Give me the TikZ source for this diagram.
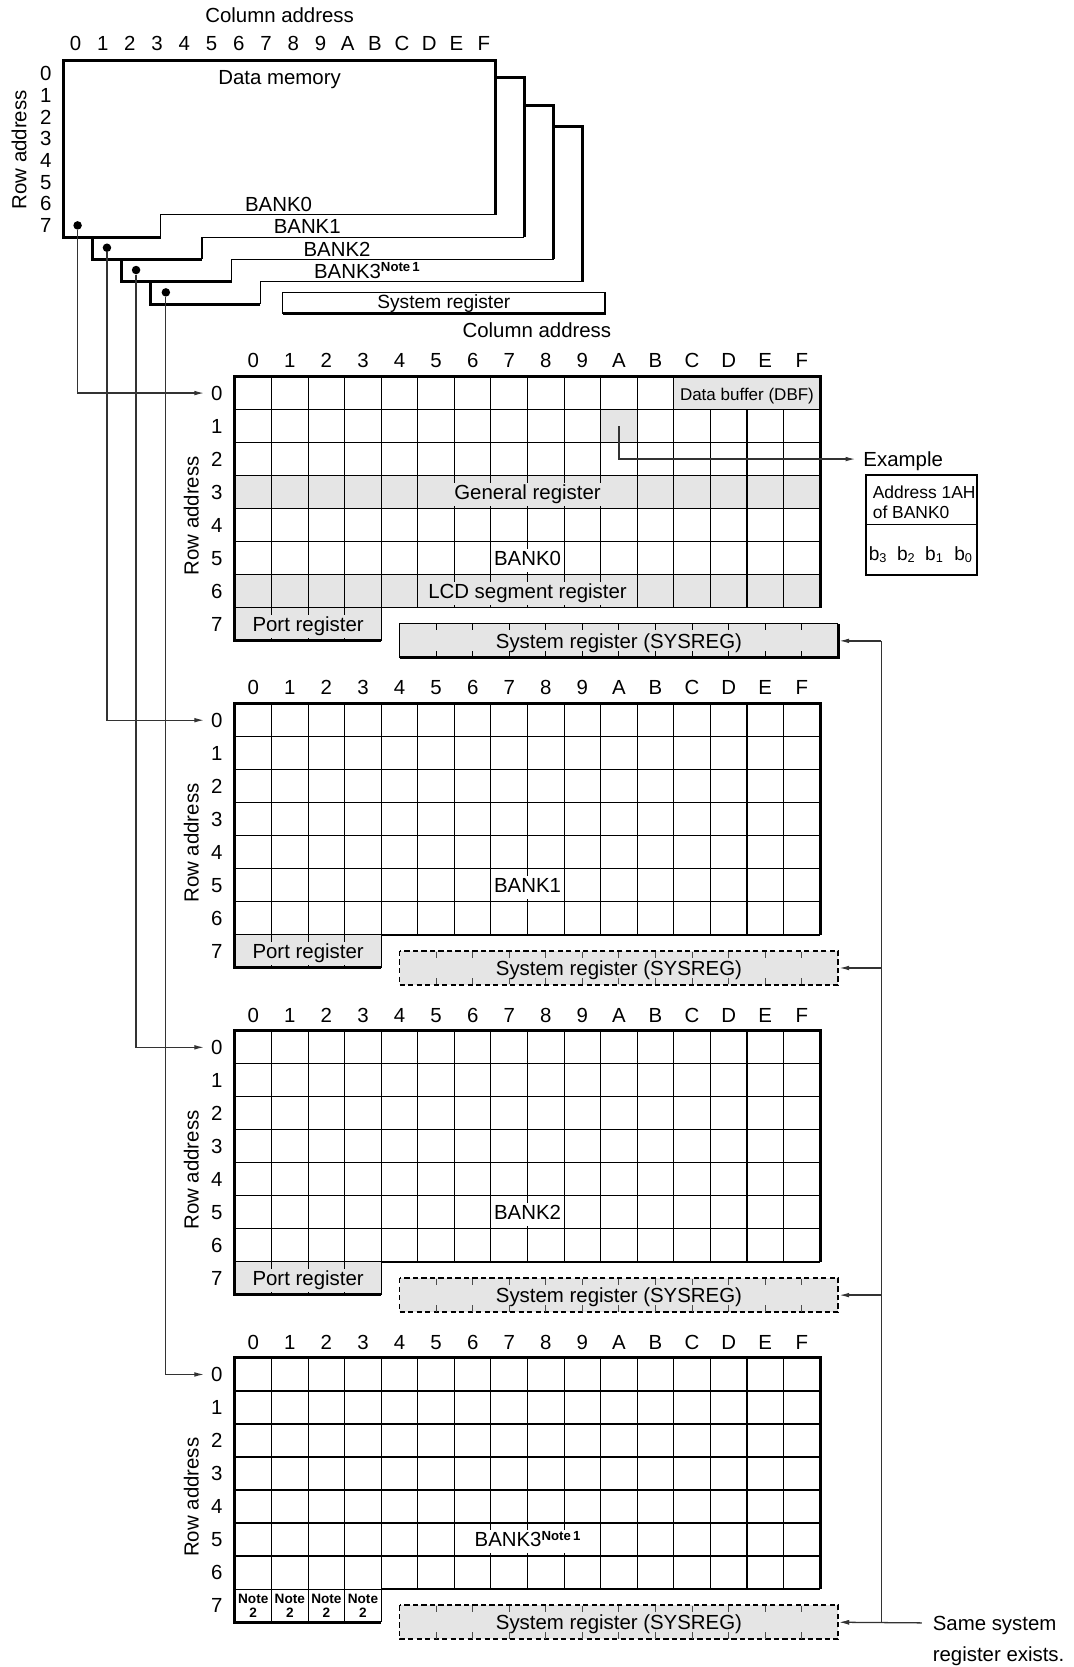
\documentclass[tikz,border=0pt]{standalone}
\usepackage{fontspec}
\setmainfont{Liberation Sans}
\usetikzlibrary{arrows.meta,calc}
\definecolor{cellgray}{gray}{0.9}
\newcommand{\myfs}[1]{\fontsize{#1}{#1}\selectfont}
\newcommand{\notesup}{\raisebox{0.6ex}{\myfs{6.2}\bfseries Note\,1}}
\tikzset{
  txt/.style={font=\myfs{9.6}, inner sep=0pt, text height=6.9pt, text depth=2pt, yshift=-1pt},
  rtxt/.style={font=\myfs{9.6}, inner sep=0pt, rotate=90},
  thinl/.style={line width=0.5pt},
  thickl/.style={line width=1.4pt},
  conn/.style={line width=0.6pt, draw=black!80},
  arr/.style={conn, -{Latex[length=4.6pt,width=2.2pt]}},
  dot/.style={circle, fill=black, inner sep=0pt, minimum size=4pt},
  dashbox/.style={line width=0.9pt, dash pattern=on 2.5pt off 1.5pt, fill=cellgray},
}
\begin{document}
\begin{tikzpicture}[x=0.5pt,y=-0.5pt]
\useasboundingbox (0,0) rectangle (1010,1568);

% ---------------- top overview ----------------
\node[txt] (topcol) at (263,14) {Column address};
\foreach \c [count=\i from 0] in {0,1,2,3,4,5,6,7,8,9,A,B,C,D,E,F}
  \node[txt] (tc\i) at ({71+25.6*\i},41) {\c};
\foreach \r in {0,...,7}
  \node[txt] (tr\r) at (43,{69+20.4*\r}) {\r};
\node[rtxt] (toprow) at (18,141) {Row address};

% BANK0 outline
\draw[thickl] (151,223) -- (60,223) -- (60,57) -- (466,57) -- (466,202);
\draw[thinl] (151,223) -- (151,202) -- (466,202);
% BANK1 outline
\draw[thickl] (190,244) -- (87,244) -- (87,223);
\draw[thickl] (466,73) -- (493,73) -- (493,223);
\draw[thinl] (190,244) -- (190,223) -- (493,223);
% BANK2 outline
\draw[thickl] (218,265) -- (114,265) -- (114,244);
\draw[thickl] (493,99) -- (521,99) -- (521,244);
\draw[thinl] (218,265) -- (218,244) -- (521,244);
% BANK3 outline
\draw[thickl] (245,286) -- (142,286) -- (142,265);
\draw[thickl] (521,119) -- (548,119) -- (548,265);
\draw[thinl] (245,286) -- (245,265) -- (548,265);

\node[txt] (dm) at (263,73) {Data memory};
\node[txt] (tb0) at (262,192) {BANK0};
\node[txt] (tb1) at (289,213) {BANK1};
\node[txt] (tb2) at (317,234) {BANK2};
\node[txt, anchor=west] (tb3) at (295,255) {BANK3\notesup};

\node[dot] (d0) at (73,212) {};
\node[dot] (d1) at (100.6,233) {};
\node[dot] (d2) at (128,254) {};
\node[dot] (d3) at (156,275) {};

% small system register box
\draw[thinl] (266,275) rectangle (569,295);
\draw[line width=1.2pt] (266,295) -- (569,295) -- (569,275);
\node[txt, font=\myfs{9}] (sysr) at (417.5,283) {System register};

\node[txt] (colhead) at (505,311) {Column address};

% ---------------- bank grids ----------------
\foreach \k in {0,1,2,3} {
  \pgfmathsetmacro{\yo}{354.2+307.7*\k}
  % shading
  \ifnum\k=0
    \fill[cellgray] ({221+12*34.4},\yo) rectangle (771.4,{\yo+31.05});
    \fill[cellgray] ({221+10*34.4},{\yo+31.05}) rectangle ({221+11*34.4},{\yo+62.1});
    \fill[cellgray] (221,{\yo+93.15}) rectangle (771.4,{\yo+124.2});
    \fill[cellgray] (221,{\yo+186.3}) rectangle (771.4,{\yo+217.35});
  \fi
  \ifnum\k<3
    \fill[cellgray] (221,{\yo+217.35}) rectangle ({221+4*34.4},{\yo+248.4});
  \fi
  % grid lines
  \foreach \j in {1,...,7}
    \draw[thinl] (221,{\yo+31.05*\j}) -- (771.4,{\yo+31.05*\j});
  \foreach \j in {1,...,15} {
    \pgfmathsetmacro{\ys}{ifthenelse(and(\k==0,\j>12),\yo+31.05,\yo)}
    \draw[thinl] ({221+34.4*\j},\ys) -- ({221+34.4*\j},{\yo+217.35});
  }
  \foreach \j in {1,2,3}
    \draw[thinl] ({221+34.4*\j},{\yo+217.35}) -- ({221+34.4*\j},{\yo+248.4});
  % borders
  \draw[thickl] ({221+4*34.4},{\yo+248.4}) -- (221,{\yo+248.4}) -- (221,\yo) -- (771.4,\yo) -- (771.4,{\yo+217.35});
  \draw[line width=0.7pt] ({221+4*34.4},{\yo+217.35}) -- (771.4,{\yo+217.35});
  \draw[thinl] ({221+4*34.4},{\yo+217.35}) -- ({221+4*34.4},{\yo+248.4});
  % labels
  \foreach \c [count=\i from 0] in {0,1,2,3,4,5,6,7,8,9,A,B,C,D,E,F}
    \node[txt] (c\k-\i) at ({238.2+34.4*\i},{\yo-15.2}) {\c};
  \foreach \r in {0,...,7}
    \node[txt] (r\k-\r) at (204,{\yo+15.525+31.05*\r}) {\r};
  \node[rtxt] (ra\k) at (180,{\yo+131}) {Row address};
  \coordinate (in\k) at (192,{\yo+15.525});
  % bank label
  \ifnum\k=3
    \node[txt, fill=white, inner sep=1pt] (bk\k) at (496.2,{\yo+170.8}) {BANK3\notesup};
    \foreach \j in {0,1,2,3}
      \node[font=\myfs{6.4}\bfseries, align=center, inner sep=0pt] (n2-\j) at ({221+34.4*(\j+0.5)},{\yo+232.9}) {Note\\2};
  \else
    \node[txt, fill=white, inner sep=1pt] (bk\k) at (496.2,{\yo+170.8}) {BANK\k};
    \node[txt, fill=cellgray, inner sep=1pt] (port\k) at (289.8,{\yo+232.9}) {Port register};
  \fi
  % system register box
  \ifnum\k=0
    \fill[cellgray] (375.8,{\yo+232.6}) rectangle (788.6,{\yo+264.6});
    \draw[thinl] (788.6,{\yo+232.6}) -- (375.8,{\yo+232.6}) -- (375.8,{\yo+264.6});
    \draw[thickl] (375.8,{\yo+264.6}) -- (788.6,{\yo+264.6}) -- (788.6,{\yo+232.6});
    \foreach \j in {1,...,11} {
      \draw[thinl] ({375.8+34.4*\j},{\yo+232.6}) -- ++(0,6);
      \draw[thinl] ({375.8+34.4*\j},{\yo+264.6}) -- ++(0,-6);
    }
  \else
    \draw[dashbox] (375.8,{\yo+232.6}) rectangle (788.6,{\yo+264.6});
    \foreach \j in {1,...,11} {
      \draw[thinl, black!70] ({375.8+34.4*\j},{\yo+233.2}) -- ++(0,6);
      \draw[thinl, black!70] ({375.8+34.4*\j},{\yo+264}) -- ++(0,-6);
    }
  \fi
  \node[txt] (sys\k) at (582.2,{\yo+248.6}) {System register (SYSREG)};
  \coordinate (se\k) at (789.5,{\yo+248.6});
  \coordinate (rv\k) at (829,{\yo+248.6});
  % left connector from overview dot
  \draw[arr] (d\k) |- (in\k);
  % right connector to system register
  \draw[arr] (rv\k) -- (se\k);
}

% texts inside BANK0
\node[txt, fill=cellgray, inner sep=1pt] (genreg) at (496.2,{354.2+108.7}) {General register};
\node[txt, fill=cellgray, inner sep=1pt] (lcdreg) at (496.2,{354.2+201.8}) {LCD segment register};
\node[txt, font=\myfs{8}, fill=cellgray, inner sep=1pt] (dbf) at (702.6,{354.2+15.5}) {Data buffer (DBF)};

% right vertical connector
\draw[conn] (rv0) -- (rv3);

% Same system register exists
\node[txt, anchor=west] (same) at (877,1526.5) {Same system};
\node[txt, anchor=west] (exists) at (877,1556) {register exists.};
\coordinate (samein) at (867,1526.5);
\draw[arr] (samein) -- (se3);

% Example
\coordinate (a1) at (582.2,400.8);
\coordinate (exin) at (804.5,431.8);
\node[txt, anchor=west] (ex) at (811.8,431.8) {Example};
\draw[arr] (a1) |- (exin);
\draw[line width=1.2pt] (814.4,446.7) rectangle (919,540.7);
\draw[thinl] (814.4,493.7) -- (919,493.7);
\node[txt, font=\myfs{8.2}, anchor=west] (addr1) at (820.6,462) {Address 1AH};
\node[txt, font=\myfs{8.2}, anchor=west] (addr2) at (820.6,480.5) {of BANK0};
\node[txt, font=\myfs{9}] (b3) at (826,520) {b\textsubscript{3}};
\node[txt, font=\myfs{9}] (b2) at (852.6,520) {b\textsubscript{2}};
\node[txt, font=\myfs{9}] (b1) at (879,520) {b\textsubscript{1}};
\node[txt, font=\myfs{9}] (b0) at (906.5,520) {b\textsubscript{0}};
\end{tikzpicture}
\end{document}
